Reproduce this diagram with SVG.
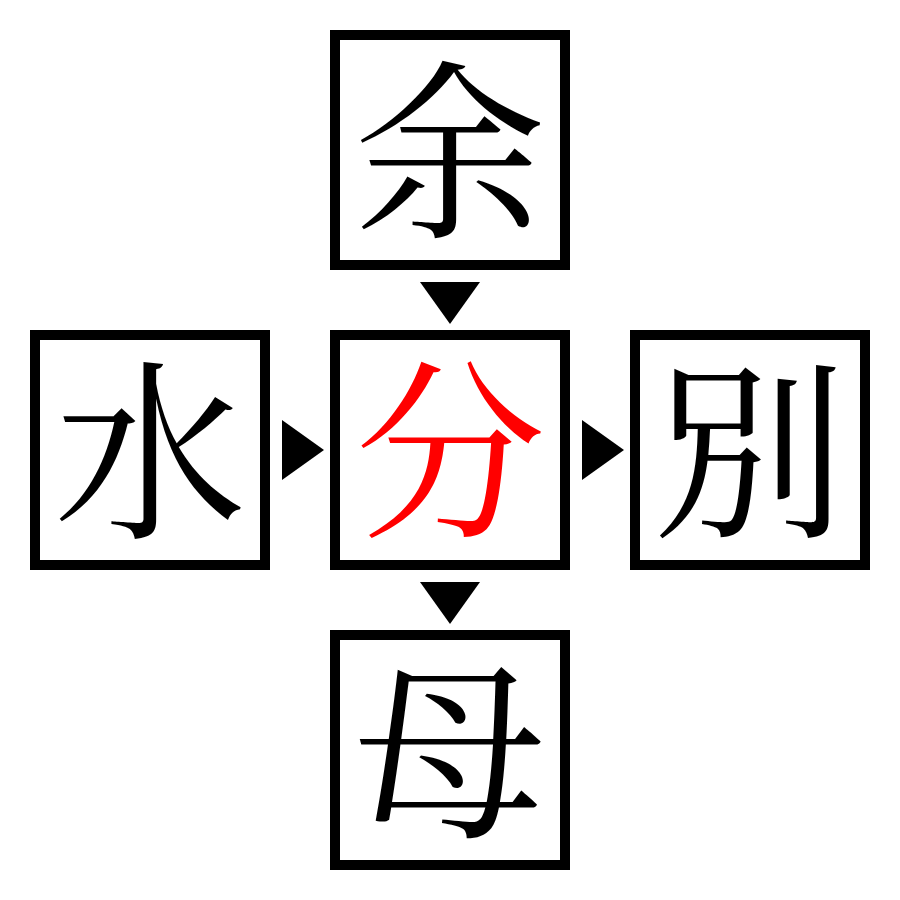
<svg xmlns="http://www.w3.org/2000/svg" width="900" height="900" viewBox="0 0 900 900">
<style>
.box{fill:#fff;stroke:#000;stroke-width:10}
.ch{font-family:"Noto Serif CJK JP","Noto Sans CJK JP","Noto Sans CJK SC",serif;font-size:192px;text-anchor:middle;fill:#000}
.red{fill:#ff0000}
.arr{fill:#000}
</style>
<rect width="900" height="900" fill="#fff"/>
<g id="top"><rect class="box" x="335" y="35" width="230" height="230"/><text class="ch" x="450" y="223">余</text></g>
<g id="left"><rect class="box" x="35" y="335" width="230" height="230"/><text class="ch" x="150" y="523">水</text></g>
<g id="center"><rect class="box" x="335" y="335" width="230" height="230"/><text class="ch red" x="450" y="523">分</text></g>
<g id="right"><rect class="box" x="635" y="335" width="230" height="230"/><text class="ch" x="750" y="523">別</text></g>
<g id="bottom"><rect class="box" x="335" y="635" width="230" height="230"/><text class="ch" x="450" y="823">母</text></g>
<g id="connectors">
<polygon class="arr" points="420,282 480,282 450,324"/>
<polygon class="arr" points="282,420 282,480 324,450"/>
<polygon class="arr" points="582,420 582,480 624,450"/>
<polygon class="arr" points="420,582 480,582 450,624"/>
</g>
</svg>
